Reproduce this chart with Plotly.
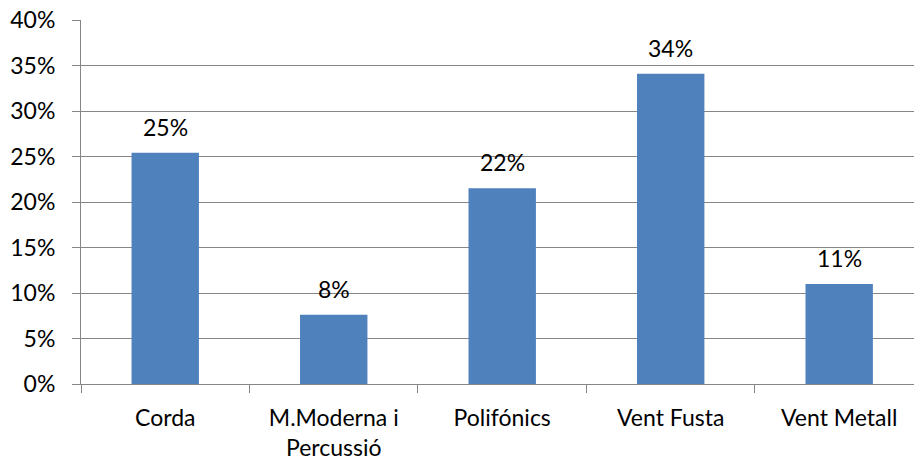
import plotly.graph_objects as go

categories = ["Corda", "M.Moderna i<br>Percussió", "Polifónics", "Vent Fusta", "Vent Metall"]
values = [0.254, 0.076, 0.215, 0.341, 0.110]
y_ticks = [0, 0.05, 0.10, 0.15, 0.20, 0.25, 0.30, 0.35, 0.40]
y_tick_labels = ["0%", "5%", "10%", "15%", "20%", "25%", "30%", "35%", "40%"]

FONT = "Lato, Carlito, Calibri, sans-serif"
FS = 23
GRID = "#868686"

fig = go.Figure()
fig.add_trace(go.Bar(
    x=categories, y=values, width=0.4,
    marker=dict(color="#4F81BD", line=dict(width=0)),
    hoverinfo="skip",
))
for c, v in zip(categories, values):
    fig.add_annotation(x=c, y=v, text=f"{round(v*100):.0f}%", showarrow=False,
                       yanchor="bottom", yshift=10,
                       font=dict(family=FONT, size=FS, color="#000000"))

fig.update_layout(
    width=914, height=465,
    margin=dict(l=81, r=0, t=20, b=81, autoexpand=False),
    paper_bgcolor="white", plot_bgcolor="white",
    showlegend=False,
    font=dict(family=FONT, size=FS, color="#000000"),
)
fig.update_xaxes(
    range=[-0.5, 4.444], automargin=False,
    showline=True, linecolor=GRID, linewidth=1,
    ticks="outside", ticklen=8, tickcolor=GRID, tickson="boundaries",
    showgrid=False, tickfont=dict(family=FONT, size=FS),
    ticklabelstandoff=13, ticklabeloverflow="allow",
)
fig.update_yaxes(
    range=[0, 0.4], tickvals=y_ticks, ticktext=y_tick_labels, automargin=False,
    showline=True, linecolor=GRID, linewidth=1,
    ticks="outside", ticklen=8, tickcolor=GRID,
    showgrid=True, gridcolor=GRID, gridwidth=1,
    zeroline=False, tickfont=dict(family=FONT, size=FS),
    ticklabelstandoff=12, ticklabeloverflow="allow",
)

fig.write_html(
    "out.html",
    config={"displayModeBar": False, "staticPlot": True},
    post_script="document.body.style.margin='0';document.body.style.overflow='hidden';",
)
